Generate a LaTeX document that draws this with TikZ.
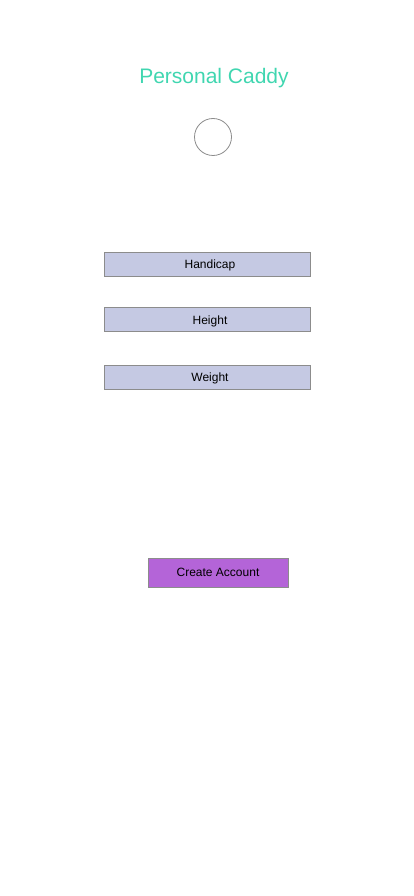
\documentclass[tikz,border=0pt]{standalone}
\usepackage{fontspec}
\setmainfont{Liberation Sans}
\usetikzlibrary{positioning}
\definecolor{titlecolor}{RGB}{64, 214, 176}
\definecolor{fieldfill}{RGB}{197, 201, 227}
\definecolor{buttonfill}{RGB}{180, 100, 216}
\definecolor{framegray}{RGB}{140, 140, 140}

\begin{document}
\begin{tikzpicture}[
    x=1pt, y=-1pt,
    node distance=31pt,
    % 输入框样式
    field/.style={
        rectangle, draw=framegray, fill=fieldfill, line width=0.8pt,
        minimum width=206pt, minimum height=24pt,
        inner sep=0pt, text depth=-1pt, font=\fontsize{12}{14}\selectfont
    },
    % 按钮样式
    button/.style={
        rectangle, draw=framegray, fill=buttonfill, line width=0.8pt,
        minimum width=140pt, minimum height=29pt,
        inner sep=0pt, text depth=-1pt, font=\fontsize{12}{14}\selectfont
    },
]

% ==================== 画布 ====================
\useasboundingbox (0,0) rectangle (414,896);

% ==================== 标题与头像 ====================
\node[text=titlecolor, font=\fontsize{21}{25}\selectfont] (title) at (214,78) {Personal Caddy};
\node[circle, draw=framegray, line width=0.8pt, minimum size=37pt, inner sep=0pt] (avatar) at (213,137) {};

% ==================== 输入框 ====================
\node[field] (handicap) at (207,264) {\hspace*{6pt}Handicap};
\node[field, below=31pt of handicap] (height) {\hspace*{6pt}Height};
\node[field, below=33pt of height] (weight) {\hspace*{6pt}Weight};

% ==================== 按钮 ====================
\node[button] (create) at (218,572.5) {Create Account};

\end{tikzpicture}
\end{document}
